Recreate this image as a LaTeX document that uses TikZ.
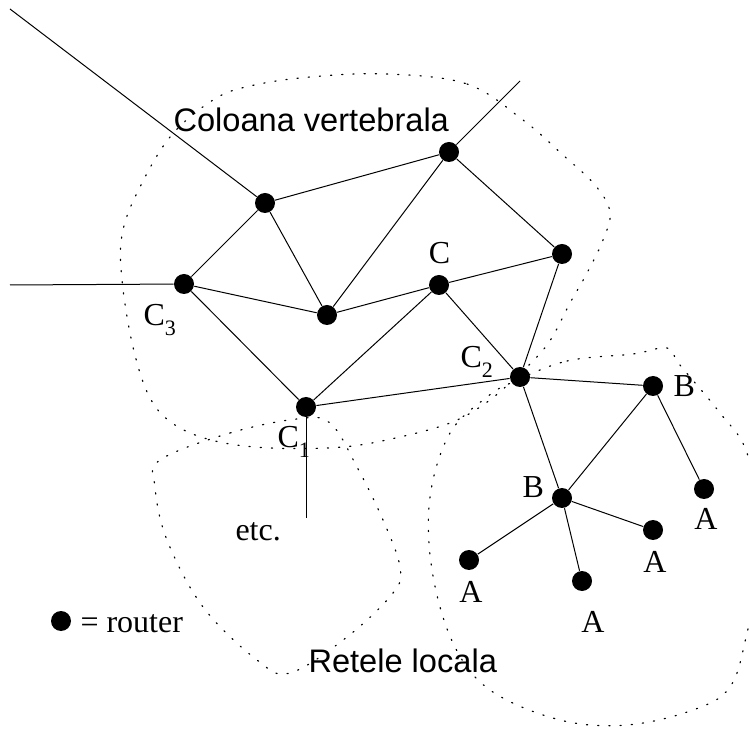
\documentclass[tikz,border=0pt]{standalone}
\usepackage{fontspec}
\setmainfont{Liberation Serif}
\setsansfont{Liberation Sans}
\newcommand{\lowsub}[1]{\raisebox{-5pt}{\fontsize{11}{12}\selectfont #1}}

\begin{document}
\begin{tikzpicture}[x=0.5pt, y=-0.5pt, line width=0.5pt,
    router/.style={circle, fill=black, inner sep=0pt, minimum size=10pt},
    lbl/.style={inner sep=0pt, anchor=base west, font=\fontsize{16}{18}\selectfont},
    albl/.style={inner sep=0pt, anchor=base, font=\fontsize{16}{18}\selectfont},
    title/.style={inner sep=0pt, anchor=base west, font=\sffamily\fontsize{16.3}{18}\selectfont},
    blob/.style={line width=0.6pt, dash pattern=on 0.6pt off 5pt, line cap=round}]

        \clip (0,0) rectangle (749,731);

        % Regions
        \draw[blob] plot[smooth cycle, tension=0.6] coordinates {(387,74) (467,84) (523,120) (563,155) (595,185) (610,212) (603,240) (587,273) (570,303) (547,345) (513,380) (483,405) (450,423) (400,437) (343,447) (270,448) (215,441) (175,425) (150,398) (133,347) (122,280) (122,235) (137,193) (170,137) (213,100) (250,86) (310,77)};
        \draw[blob] plot[smooth cycle, tension=0.6] coordinates {(160,460) (230,433) (297,419) (330,423) (357,467) (383,520) (400,567) (393,593) (347,637) (290,673) (257,660) (203,607) (167,540) (155,487)};
        \draw[blob] plot[smooth cycle, tension=0.6] coordinates {(513,382) (567,361) (633,354) (667,348) (680,365) (720,413) (747,453) (765,540) (747,633) (730,687) (693,710) (627,725) (560,720) (490,690) (453,643) (432,570) (430,497) (450,433) (487,397)};

        % Routers
        \node (nw) [router] at (265,203) {};
        \node (n) [router] at (449,152) {};
        \node (ne) [router] at (562,254) {};
        \node (c3) [router] at (184,284) {};
        \node (mid) [router] at (327,315) {};
        \node (c) [router] at (439,285) {};
        \node (c2) [router] at (520,377) {};
        \node (c1) [router] at (306,407) {};
        \node (b1) [router] at (653,386) {};
        \node (b2) [router] at (562,498) {};
        \node (a1) [router] at (704,489) {};
        \node (a2) [router] at (653,530) {};
        \node (a3) [router] at (469,560) {};
        \node (a4) [router] at (582,581) {};
        \node (legdot) [router] at (61,621) {};

        % Free ends
        \coordinate (endnw) at (10,9);
        \coordinate (endn) at (520,81);
        \coordinate (endw) at (10,285);
        \coordinate (ends) at (306,518);

        % Links
        \foreach \i/\j in {nw/n, nw/c3, nw/mid, n/mid, n/ne, c3/mid, c3/c1, mid/c, c/ne, c/c2, ne/c2, c1/c, c1/c2, c2/b1, c2/b2, b1/b2, b1/a1, b2/a2, b2/a3, b2/a4, nw/endnw, n/endn, c3/endw, c1/ends} {
            \draw (\i) -- (\j);
        }

        % Labels
        \node (lc3) [lbl] at (143,326) {C\lowsub{3}};
        \node (lc) [albl] at (439.5,264) {C};
        \node (lc2) [lbl] at (460,368) {C\lowsub{2}};
        \node (lc1) [lbl] at (277,448) {C\lowsub{1}};
        \node (lb1) [lbl] at (673,397) {B};
        \node (lb2) [lbl] at (522,498) {B};
        \node (la1) [albl] at (706,530) {A};
        \node (la2) [albl] at (655,572) {A};
        \node (la3) [albl] at (471,602) {A};
        \node (la4) [albl] at (593,632) {A};
        \node (etc) [lbl] at (235,540) {etc.};
        \node (legend) [lbl] at (80,632) {= router};
        \node (backbone) [title] at (173,132) {Coloana vertebrala};
        \node (lans) [title] at (308,672) {Retele locala};

    \end{tikzpicture}
\end{document}
